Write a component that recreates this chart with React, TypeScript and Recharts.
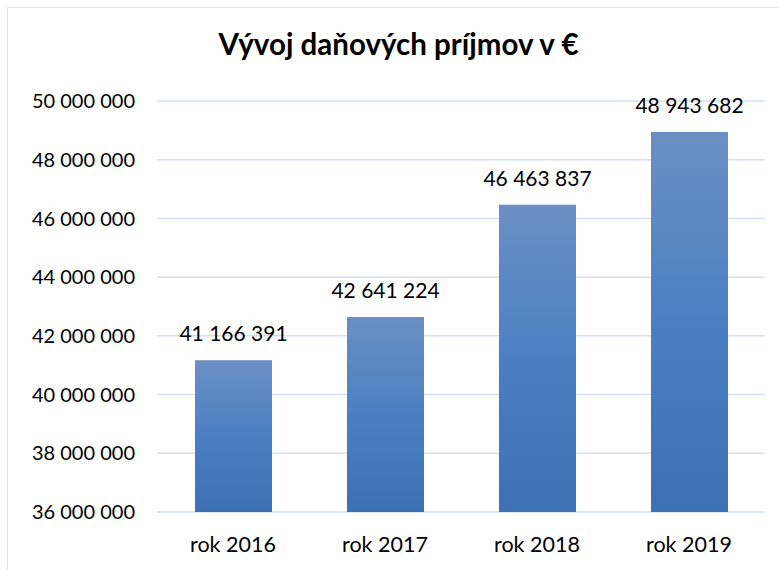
import { Bar, BarChart, CartesianGrid, LabelList, XAxis, YAxis } from "recharts";

const years = ["rok 2016", "rok 2017", "rok 2018", "rok 2019"];
const revenue = [41166391, 42641224, 46463837, 48943682];
const yTicks = [36000000, 38000000, 40000000, 42000000, 44000000, 46000000, 48000000, 50000000];

const data = years.map((year, i) => ({ year, value: revenue[i] }));

const fmt = (v: number) => String(Math.round(v)).replace(/\B(?=(\d{3})+(?!\d))/g, " ");

const FONT = "Lato, 'Open Sans', sans-serif";

// value label above each bar, drawn without width-based wrapping
const TopLabel = (props: any) => {
  const { x, y, width, value } = props;
  return (
    <text
      x={Number(x) + Number(width) / 2}
      y={Number(y) - 19}
      textAnchor="middle"
      fill="#000"
      fontSize={21}
      fontFamily={FONT}
    >
      {fmt(Number(value))}
    </text>
  );
};

export default function App() {
  return (
    <div
      style={{
        position: "absolute",
        left: 0,
        top: 0,
        width: 779,
        height: 570,
        overflow: "hidden",
        background: "#fff",
        fontFamily: FONT,
      }}
    >
      {/* chart frame, only left + top edges are visible in the crop */}
      <div
        style={{
          position: "absolute",
          left: 7,
          top: 7,
          width: 820,
          height: 620,
          border: "1.5px solid #dbe3ee",
        }}
      />
      <div
        style={{
          position: "absolute",
          left: 9,
          top: 26,
          width: 779,
          textAlign: "center",
          fontSize: 29.5,
          fontWeight: 700,
          color: "#000",
        }}
      >
        Vývoj daňových príjmov v €
      </div>
      <div style={{ position: "absolute", left: 0, top: 0 }}>
        <BarChart
          width={779}
          height={570}
          data={data}
          margin={{ top: 101, right: 14, bottom: 0, left: 0 }}
        >
          <defs>
            <linearGradient id="barGrad" x1="0" y1="0" x2="0" y2="1">
              <stop offset="0%" stopColor="#6b8fc4" />
              <stop offset="50%" stopColor="#4a80c3" />
              <stop offset="100%" stopColor="#3c70b2" />
            </linearGradient>
          </defs>
          <CartesianGrid vertical={false} stroke="#d5dff0" strokeWidth={1.5} />
          <XAxis
            dataKey="year"
            axisLine={false}
            tickLine={false}
            tickSize={0}
            tickMargin={25}
            height={58}
            tick={{ fill: "#000", fontSize: 21.5, fontFamily: FONT }}
          />
          <YAxis
            domain={[36000000, 50000000]}
            ticks={yTicks}
            tickFormatter={fmt}
            axisLine={false}
            tickLine={false}
            tickSize={0}
            tickMargin={22}
            width={157}
            tick={{ fill: "#000", fontSize: 20, fontFamily: FONT }}
          />
          <Bar dataKey="value" fill="url(#barGrad)" barSize={77} isAnimationActive={false}>
            <LabelList dataKey="value" content={TopLabel} />
          </Bar>
        </BarChart>
      </div>
    </div>
  );
}
